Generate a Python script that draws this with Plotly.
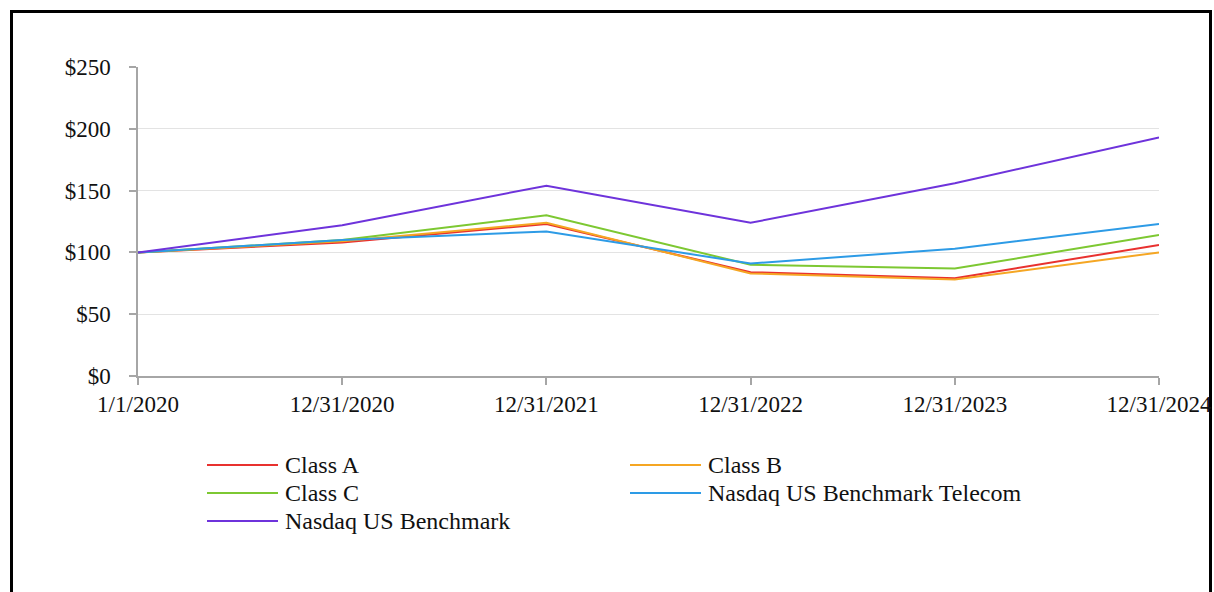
import plotly.graph_objects as go

dates = ["1/1/2020", "12/31/2020", "12/31/2021", "12/31/2022", "12/31/2023", "12/31/2024"]
class_a = [100, 108, 123, 84, 79, 106]
class_b = [100, 109, 124, 83, 78, 100]
class_c = [100, 110, 130, 90, 87, 114]
telecom = [100, 110, 117, 91, 103, 123]
benchmark = [100, 122, 154, 124, 156, 193]

names = ["Class A", "Class B", "Class C", "Nasdaq US Benchmark Telecom", "Nasdaq US Benchmark"]
series = [class_a, class_b, class_c, telecom, benchmark]
colors = ["#E8312F", "#F5A623", "#7DC832", "#2D9BE6", "#6E33DB"]

y_ticks = [0, 50, 100, 150, 200, 250]
y_labels = ["$0", "$50", "$100", "$150", "$200", "$250"]

W, H = 1214, 592
L, R, T, B = 138, 55, 67, 216
pw, ph = W - L - R, H - T - B

def px_x(x):
    return (x - L) / pw

def px_y(y):
    return (H - B - y) / ph

FONT = "Liberation Serif, Times New Roman, serif"

fig = go.Figure()
for name, vals, col in zip(names, series, colors):
    fig.add_trace(go.Scatter(x=dates, y=vals, mode="lines", name=name,
                             line=dict(color=col, width=2), showlegend=False))

shapes = []
annotations = []
# custom legend (2 columns)
col_x = [207, 630]
row_y = [465, 493, 521]
for i, (name, col) in enumerate(zip(names, colors)):
    c, r = i % 2, i // 2
    x0 = col_x[c]
    yy = row_y[r]
    shapes.append(dict(type="line", xref="paper", yref="paper",
                       x0=px_x(x0), x1=px_x(x0 + 71), y0=px_y(yy), y1=px_y(yy),
                       line=dict(color=col, width=2)))
    annotations.append(dict(text=name, xref="paper", yref="paper",
                            x=px_x(x0 + 76), y=px_y(yy), xanchor="left", yanchor="middle",
                            showarrow=False, font=dict(family=FONT, size=24, color="#111111")))

# outer frame
shapes.append(dict(type="rect", xref="paper", yref="paper",
                   x0=px_x(11.5), x1=px_x(1210.5), y0=px_y(700), y1=px_y(11.5),
                   line=dict(color="black", width=3), fillcolor="rgba(0,0,0,0)", layer="below"))

fig.update_layout(
    width=W, height=H,
    margin=dict(l=L, r=R, t=T, b=B, autoexpand=False),
    paper_bgcolor="white", plot_bgcolor="white",
    font=dict(family=FONT, size=23, color="#111111"),
    shapes=shapes, annotations=annotations,
    showlegend=False,
)
fig.update_xaxes(type="category", range=[0, len(dates) - 1], showgrid=False,
                 automargin=False,
                 showline=True, linecolor="#A6A6A6", linewidth=1.5,
                 ticks="outside", ticklen=7, tickcolor="#A6A6A6", tickwidth=1.5,
                 tickfont=dict(family=FONT, size=23, color="#111111"))
fig.update_yaxes(range=[0, 250], tickvals=y_ticks, ticktext=y_labels,
                 automargin=False, ticklabelstandoff=14,
                 showgrid=True, gridcolor="#E3E3E3", gridwidth=1,
                 showline=True, linecolor="#A6A6A6", linewidth=1.5,
                 ticks="outside", ticklen=7, tickcolor="#A6A6A6", tickwidth=1.5,
                 zeroline=False,
                 tickfont=dict(family=FONT, size=23, color="#111111"))

fig.write_html("out.html", config={"displayModeBar": False},
               post_script="document.body.style.margin='0';document.body.style.padding='0';document.body.style.overflow='hidden';")
